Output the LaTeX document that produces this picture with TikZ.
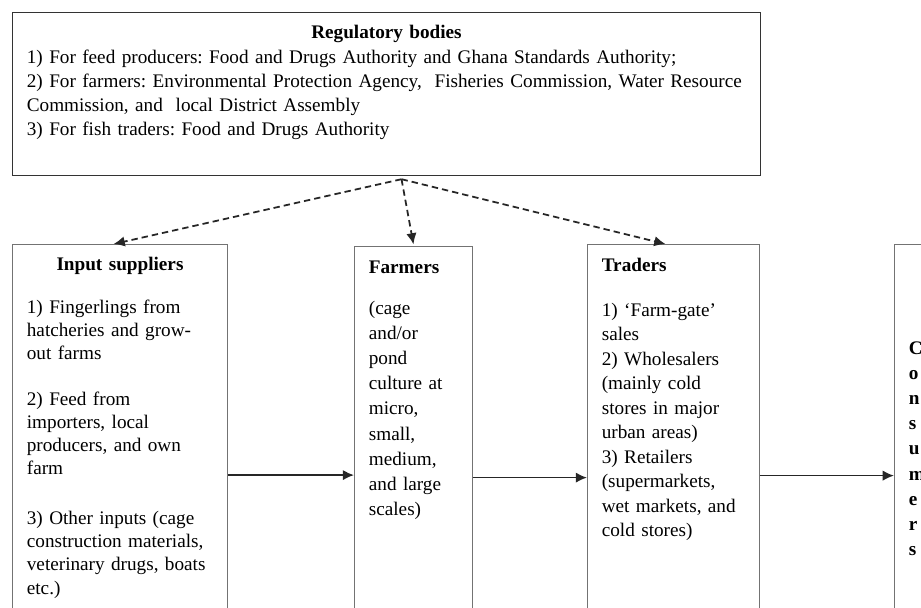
\documentclass[tikz,border=0pt]{standalone}
\usepackage{fontspec}
\setmainfont{Liberation Serif}
\usetikzlibrary{arrows.meta,positioning,calc}

\begin{document}
\frenchspacing
\begin{tikzpicture}[
  box/.style={draw=black!55, line width=0.6pt, align=left, inner xsep=9pt, inner ysep=0pt, anchor=north west},
  col/.style={box, text depth=272pt},
  arr/.style={-{Latex[length=7pt,width=6.5pt]}, line width=1.1pt, black!85},
  dasharr/.style={arr, dash pattern=on 4pt off 2.5pt},
]
\useasboundingbox (0,0) rectangle (575.625pt,-379.375pt);
\clip (0,0) rectangle (575.625pt,-379.375pt);
\node[box, draw=black!80, text width=449.5pt, text height=16pt, text depth=85.9pt,
  font=\fontsize{12}{15}\selectfont] (regs) at (7.5pt,-7.5pt)
  {\makebox[\linewidth]{\textbf{Regulatory bodies}}\\[1pt]
   1) For feed producers: Food and Drugs Authority and Ghana Standards Authority;\\
   2) For farmers: Environmental Protection Agency, \ Fisheries Commission, Water Resource\\
   Commission, and \ local District Assembly\\
   3) For fish traders: Food and Drugs Authority};
\node[col, text width=116.4pt, text height=16.25pt, font=\fontsize{12}{14.4}\selectfont,
  below=42.5pt of regs.south west, anchor=north west] (inputs)
  {\makebox[\linewidth]{\textbf{Input suppliers}}\\[12.5pt]
   1) Fingerlings from\\ hatcheries and grow-\\ out farms\\[14.4pt]
   2) Feed from\\ importers, local\\ producers, and own\\ farm\\[16.9pt]
   3) Other inputs (cage\\ construction materials,\\ veterinary drugs, boats\\ etc.)};
\node[col, text width=55.75pt, text height=16.9pt, font=\fontsize{12}{15.7}\selectfont,
  right=78.75pt of inputs.north east, anchor=north west, yshift=-1.25pt] (farmers)
  {\textbf{Farmers}\\[9.9pt]
   (cage\\ and/or\\ pond\\ culture at\\ micro,\\ small,\\ medium,\\ and large\\ scales)};
\node[col, text width=89.5pt, text height=16.9pt, font=\fontsize{12}{15.3}\selectfont,
  right=71.25pt of farmers.north east, anchor=north west, yshift=1.25pt] (traders)
  {\textbf{Traders}\\[12.8pt]
   1) `Farm-gate'\\ sales\\ 2) Wholesalers\\ (mainly cold\\ stores in major\\ urban areas)\\
   3) Retailers\\ (supermarkets,\\ wet markets, and\\ cold stores)};
\node[box, text width=19.5pt, text height=68.75pt, text depth=220pt,
  font=\bfseries\fontsize{12}{15.7}\selectfont,
  right=83.75pt of traders.north east, anchor=north west] (consumers)
  {C\\ o\\ n\\ s\\ u\\ m\\ e\\ r\\ s};
% flows along the chain
\draw[arr] (inputs) -- (inputs -| farmers.west);
\draw[arr] (farmers) -- (farmers -| traders.west);
\draw[arr] (traders) -- (traders -| consumers.west);
% regulation
\coordinate (hub) at ([xshift=9.4pt,yshift=-2pt]regs.south);
\draw[dasharr] (hub) -- ([xshift=-4pt]inputs.north);
\draw[dasharr] (hub) -- ([yshift=1pt]farmers.north);
\draw[dasharr] (hub) -- ([xshift=-5pt]traders.north);
\end{tikzpicture}
\end{document}
